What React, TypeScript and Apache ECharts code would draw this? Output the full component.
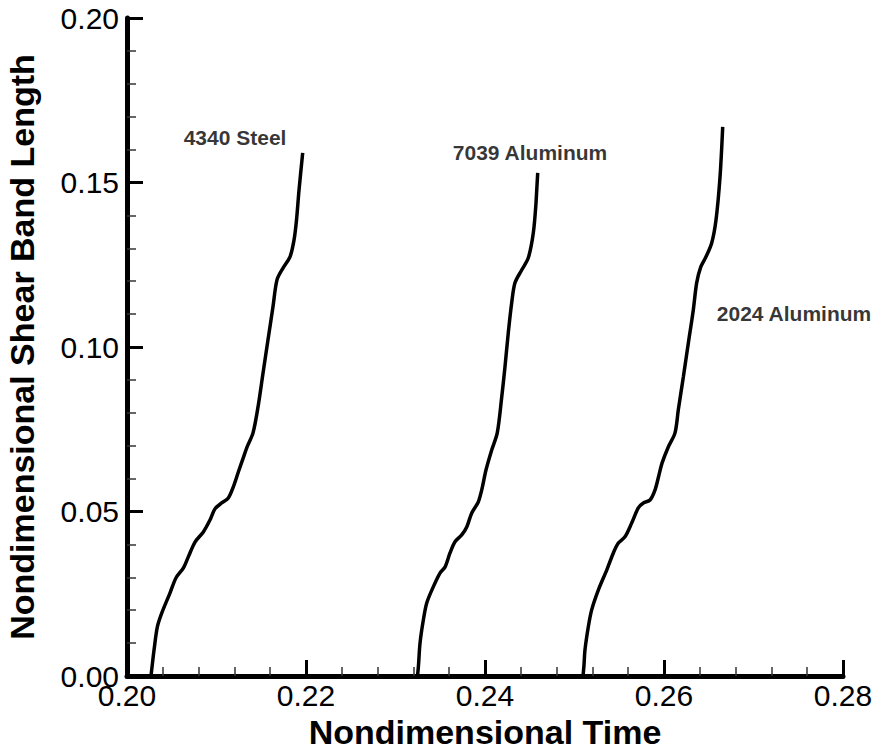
import React, { useEffect, useRef } from "react";
import * as echarts from "echarts";

// 4340 Steel curve: [time, shear band length]
const steel4340: [number, number][] = [
  [0.20268, 0.0], [0.20282, 0.0033], [0.20302, 0.0079], [0.20339, 0.0149],
  [0.20388, 0.0191], [0.2048, 0.0252], [0.20547, 0.0298], [0.20629, 0.0328],
  [0.20685, 0.0362], [0.2076, 0.0407], [0.20853, 0.0438], [0.20927, 0.0474],
  [0.20983, 0.0508], [0.21058, 0.0526], [0.21132, 0.0541], [0.21188, 0.0575],
  [0.21244, 0.062], [0.21299, 0.0663], [0.21341, 0.0696], [0.21408, 0.0739],
  [0.21464, 0.0818], [0.2152, 0.0921], [0.21575, 0.1021], [0.21631, 0.1122],
  [0.21676, 0.1204], [0.21743, 0.124], [0.21821, 0.1274], [0.21866, 0.1325],
  [0.21894, 0.1386], [0.21922, 0.1477], [0.21963, 0.159],
];

// 7039 Aluminum curve
const al7039: [number, number][] = [
  [0.23246, 0.0], [0.23257, 0.0033], [0.23274, 0.01], [0.23311, 0.017],
  [0.23349, 0.0222], [0.23422, 0.0271], [0.23497, 0.0313], [0.23553, 0.0331],
  [0.23609, 0.0374], [0.23665, 0.0408], [0.2374, 0.0429], [0.23796, 0.0453],
  [0.23851, 0.0495], [0.23925, 0.0529], [0.23963, 0.0565], [0.24011, 0.0626],
  [0.24075, 0.0687], [0.24137, 0.0739], [0.24187, 0.0848], [0.24223, 0.0939],
  [0.2426, 0.1043], [0.24298, 0.1134], [0.24335, 0.1195], [0.2441, 0.1234],
  [0.24484, 0.1271], [0.2454, 0.1347], [0.2457, 0.1438], [0.24589, 0.1529],
];

// 2024 Aluminum curve
const al2024: [number, number][] = [
  [0.25095, 0.0], [0.25106, 0.0033], [0.25117, 0.0079], [0.25154, 0.0149],
  [0.25192, 0.0201], [0.25266, 0.0261], [0.2536, 0.0322], [0.25434, 0.0374],
  [0.2549, 0.0404], [0.25564, 0.0423], [0.25639, 0.0465], [0.25713, 0.0511],
  [0.25769, 0.0526], [0.25844, 0.0535], [0.25899, 0.0565], [0.25944, 0.0611],
  [0.25978, 0.0647], [0.26048, 0.0696], [0.26123, 0.0739], [0.2616, 0.0809],
  [0.26216, 0.0909], [0.26272, 0.1012], [0.26327, 0.1112], [0.26365, 0.1195],
  [0.2641, 0.1243], [0.26469, 0.1274], [0.26533, 0.1316], [0.26581, 0.1386],
  [0.26626, 0.1517], [0.26656, 0.1669],
];

// Curve annotations (label centre in data coordinates)
const curveLabels = [
  { name: "4340 Steel", value: [0.21207, 0.1638] },
  { name: "7039 Aluminum", value: [0.24503, 0.159] },
  { name: "2024 Aluminum", value: [0.27453, 0.1103] },
];

const xMin = 0.2;
const xMax = 0.28;
const xStep = 0.02;
const yMin = 0.0;
const yMax = 0.2;
const yStep = 0.05;

const FONT = "'Liberation Sans', Arial, Helvetica, sans-serif";

export default function App() {
  const ref = useRef<HTMLDivElement>(null);

  useEffect(() => {
    if (!ref.current) return;
    const chart = echarts.init(ref.current, undefined, { renderer: "svg" });

    const lineSeries = (name: string, data: [number, number][]) => ({
      name,
      type: "line",
      data,
      showSymbol: false,
      symbol: "none",
      smooth: 0.3,
      lineStyle: { color: "#000", width: 3.5 },
      silent: true,
      z: 3,
    });

    chart.setOption({
      animation: false,
      backgroundColor: "#fff",
      grid: {
        left: 127,
        right: 32,
        top: 18,
        bottom: 75,
        containLabel: false,
        outerBoundsMode: "none",
      },
      xAxis: {
        type: "value",
        min: xMin,
        max: xMax,
        interval: xStep,
        name: "Nondimensional Time",
        nameLocation: "middle",
        nameGap: 34,
        nameTextStyle: {
          fontFamily: FONT,
          fontWeight: "bold",
          fontSize: 34,
          color: "#000",
        },
        axisLine: { show: true, lineStyle: { color: "#000", width: 5 } },
        axisTick: {
          show: true,
          inside: true,
          length: 16,
          lineStyle: { color: "#000", width: 3 },
        },
        minorTick: {
          show: true,
          splitNumber: 5,
          length: 9,
          lineStyle: { color: "#333", width: 1.5 },
        },
        splitLine: { show: false },
        minorSplitLine: { show: false },
        axisLabel: {
          fontFamily: FONT,
          fontSize: 30,
          color: "#000",
          margin: 4,
          formatter: (v: number) => v.toFixed(2),
        },
      },
      yAxis: {
        type: "value",
        min: yMin,
        max: yMax,
        interval: yStep,
        name: "Nondimensional Shear Band Length",
        nameLocation: "middle",
        nameGap: 88,
        nameTextStyle: {
          fontFamily: FONT,
          fontWeight: "bold",
          fontSize: 34,
          color: "#000",
        },
        axisLine: { show: true, lineStyle: { color: "#000", width: 5 } },
        axisTick: {
          show: true,
          inside: true,
          length: 16,
          lineStyle: { color: "#000", width: 3 },
        },
        minorTick: {
          show: true,
          splitNumber: 5,
          length: 9,
          lineStyle: { color: "#333", width: 1.5 },
        },
        splitLine: { show: false },
        minorSplitLine: { show: false },
        axisLabel: {
          fontFamily: FONT,
          fontSize: 30,
          color: "#000",
          margin: 8,
          formatter: (v: number) => v.toFixed(2),
        },
      },
      series: [
        lineSeries("4340 Steel", steel4340),
        lineSeries("7039 Aluminum", al7039),
        lineSeries("2024 Aluminum", al2024),
        {
          type: "scatter",
          data: curveLabels,
          symbolSize: 0,
          silent: true,
          label: {
            show: true,
            position: "inside",
            formatter: "{b}",
            fontFamily: FONT,
            fontWeight: "bold",
            fontSize: 21,
            color: "#000",
            textBorderWidth: 0,
          },
          z: 4,
        },
      ],
    });

    return () => chart.dispose();
  }, []);

  return (
    <div
      ref={ref}
      style={{ position: "fixed", left: 0, top: 0, width: 875, height: 751, background: "#fff" }}
    />
  );
}
